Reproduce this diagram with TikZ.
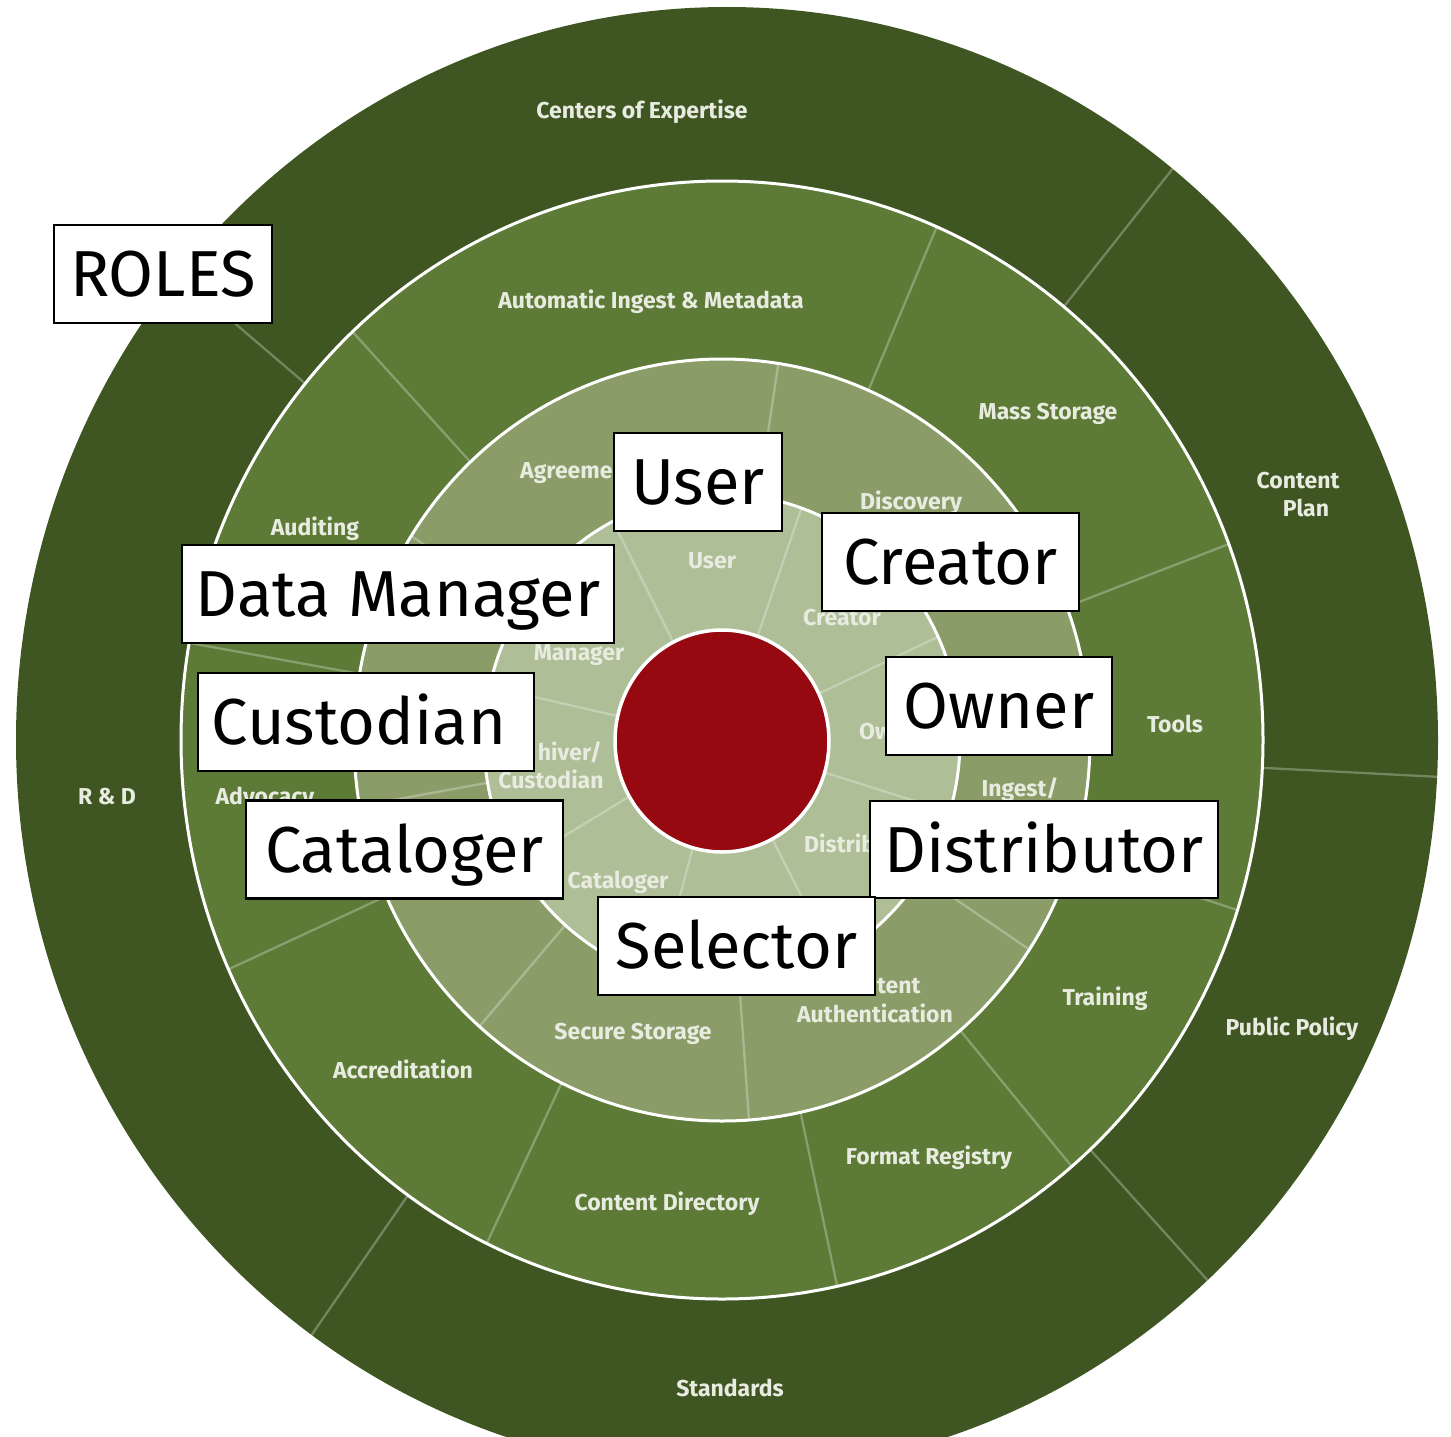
\documentclass[tikz,border=0pt]{standalone}
\usepackage{fontspec}
\newfontfamily\boxfont{Fira Sans}
\newfontfamily\segfont{Fira Sans}
\definecolor{ringdark}{HTML}{3F5623}
\definecolor{ringmid}{HTML}{5D7A37}
\definecolor{ringinner}{HTML}{8A9D69}
\definecolor{ringpale}{HTML}{AEBE96}
\definecolor{corered}{HTML}{970910}
\definecolor{labcol}{HTML}{E8ECE0}
\newcommand\mySpoke[3]{\draw[divline] ({722+(#2)*cos(#1)},{740-1.034*(#2)*sin(#1)}) -- ({722+(#3)*cos(#1)},{740-1.034*(#3)*sin(#1)});}
\begin{document}
\begin{tikzpicture}[x=1pt,y=-1pt,
  seg/.style={font=\segfont\bfseries\fontsize{23}{26}\selectfont, text=labcol, inner sep=0pt, text height=16pt, text depth=0pt},
  rolebox/.style={draw=black, line width=2.2pt, fill=white, inner sep=0pt, font=\boxfont\fontsize{65}{70}\selectfont, text height=45pt, text depth=0pt},
  divline/.style={draw=white, draw opacity=0.28, line width=2.3pt},
  ringedge/.style={draw=white, line width=3pt}]
\useasboundingbox (0,0) rectangle (1451,1437);
% rings
\fill[ringdark] (727,740) ellipse [x radius=711pt, y radius=733pt];
\begin{scope}
\clip (727,740) ellipse [x radius=711pt, y radius=733pt];
\foreach \a in {140.4,50.8,-2.85,-47.1,234.5} {\mySpoke{\a}{530}{760}}
\end{scope}
\fill[ringmid] (722,740) ellipse [x radius=541pt, y radius=559pt];
\foreach \a in {133.1,170,204.2,244.2,282.3,310.3,342.3,20.5,66.6} {\mySpoke{\a}{360}{541}}
\fill[ringinner] (722,740) ellipse [x radius=368pt, y radius=381pt];
\foreach \a in {81.2,147.6,190,228.8,274.2,326.6} {\mySpoke{\a}{232}{368}}
\fill[ringpale] (722,740) ellipse [x radius=238pt, y radius=246pt];
\foreach \a in {117.3,70.5,24.8,-17,-62.3,254.4,210.5,167.5} {\mySpoke{\a}{100}{238}}
\draw[ringedge] (722,740) ellipse [x radius=541pt, y radius=559pt];
\draw[ringedge] (722,740) ellipse [x radius=368pt, y radius=381pt];
\draw[ringedge] (722,740) ellipse [x radius=238pt, y radius=246pt];
\filldraw[fill=corered, draw=white, line width=3.5pt] (722,741) ellipse [x radius=107pt, y radius=111pt];
% outer ring labels
\node[seg] (lcoe) at (642,110) {Centers of Expertise};
\node[seg] (lcp1) at (1298,480) {Content};
\node[seg] (lcp2) at (1306,508) {Plan};
\node[seg] (lpp) at (1292,1027) {Public Policy};
\node[seg] (lstd) at (730,1388) {Standards};
\node[seg] (lrd) at (107,796) {R \& D};
% middle ring labels
\node[seg] (laim) at (651,300) {Automatic Ingest \& Metadata};
\node[seg] (lms) at (1048,411) {Mass Storage};
\node[seg] (ltools) at (1175,724) {Tools};
\node[seg] (ltrain) at (1105,997) {Training};
\node[seg] (lfr) at (929,1156) {Format Registry};
\node[seg] (lcd) at (667,1202) {Content Directory};
\node[seg] (lacc) at (403,1070) {Accreditation};
\node[seg] (ladv) at (265,796) {Advocacy};
\node[seg] (laud) at (315,527) {Auditing};
% inner ring labels (parts not hidden by the role boxes)
\node[seg, anchor=west] (lagr) at (520,470) {Agreeme};
\node[seg] (ldisc) at (911,501) {Discovery};
\node[seg] (ling) at (1020,788) {Ingest/};
\node[seg, anchor=west] (lcont) at (877,985) {tent};
\node[seg] (lauth) at (875,1014) {Authentication};
\node[seg] (lss) at (633,1031) {Secure Storage};
% pale ring labels
\node[seg] (puser) at (712,560) {User};
\node[seg] (pcreat) at (842,617) {Creator};
\node[seg, anchor=west] (powner) at (859,731) {Ow};
\node[seg, anchor=west] (pdist) at (804,844) {Distrib};
\node[seg] (pcat) at (618,880) {Cataloger};
\node[seg, anchor=east] (parch) at (602,752) {hiver/};
\node[seg] (pcust) at (551,780) {Custodian};
\node[seg] (pman) at (579,652) {Manager};
% role boxes
\node[rolebox, minimum width=218pt, minimum height=98pt] (broles) at (163,274) {ROLES};
\node[rolebox, minimum width=168pt, minimum height=98pt] (buser) at (698,482) {User};
\node[rolebox, minimum width=257pt, minimum height=98pt] (bcreator) at (950.5,562) {Creator};
\node[rolebox, minimum width=432pt, minimum height=98pt] (bdm) at (398,594) {Data Manager};
\node[rolebox, minimum width=226pt, minimum height=98pt] (bowner) at (999,706) {Owner};
\node[rolebox, minimum width=336pt, minimum height=98pt] (bcust) at (366,722) {Custodian\hspace*{14pt}};
\node[rolebox, minimum width=317pt, minimum height=98pt] (bcat) at (404.5,849.5) {Cataloger};
\node[rolebox, minimum width=348pt, minimum height=97pt] (bdist) at (1044,849.5) {Distributor};
\node[rolebox, minimum width=277pt, minimum height=98pt] (bsel) at (736.5,946) {Selector};
\end{tikzpicture}
\end{document}
